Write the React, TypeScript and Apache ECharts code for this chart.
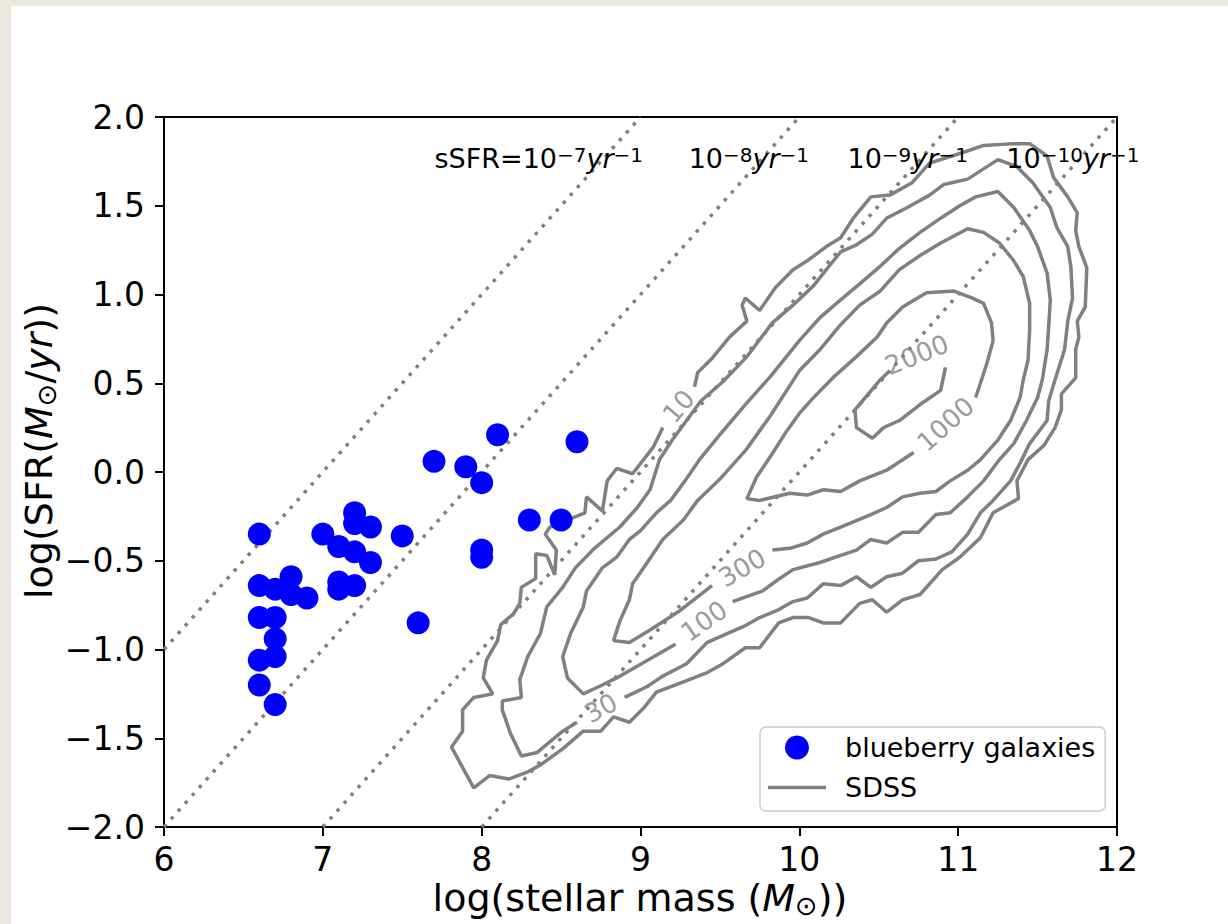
import React, { useEffect, useRef } from "react";
import * as echarts from "echarts";

const FONT = "DejaVu Sans";

// axis ticks
const xTickMin = 6;
const xTickMax = 12;
const yTickMin = -2;
const yTickMax = 2;

// blueberry galaxies: log stellar mass, log SFR
const blueberryMass = [6.6, 7.0, 7.1, 7.2, 7.2, 7.3, 7.2, 7.3, 7.5, 6.6, 6.7, 6.8, 6.8, 6.9, 7.1, 7.1, 7.2, 6.6, 6.7, 6.7, 6.6, 6.7, 6.6, 6.7, 7.7, 7.9, 8.0, 8.1, 8.6, 8.3, 8.5, 8.0, 8.0, 7.6];
const blueberrySFR = [-0.35, -0.35, -0.42, -0.23, -0.29, -0.31, -0.45, -0.51, -0.36, -0.64, -0.66, -0.59, -0.69, -0.71, -0.62, -0.66, -0.64, -0.82, -0.82, -0.94, -1.06, -1.04, -1.2, -1.31, 0.06, 0.03, -0.06, 0.21, 0.17, -0.27, -0.27, -0.44, -0.48, -0.85];

// constant sSFR reference lines (endpoints inside the axes)
const sSFRLineStart = [[6, -1], [6, -2], [7, -2], [8, -2]];
const sSFRLineEnd = [[9, 2], [10, 2], [11, 2], [12, 2]];
const sSFRExponent = ["−7", "−8", "−9", "−10"];
const sSFRPrefix = ["sSFR=10", "10", "10", "10"];
const sSFRLabelX = [7.7, 9.3, 10.3, 11.3];
const sSFRLabelY = [1.7, 1.7, 1.7, 1.7];

// SDSS contours (open at the inline label)
const sdss10 = [[9.34,0.48],[9.36,0.56],[9.45,0.64],[9.56,0.76],[9.67,0.85],[9.64,0.94],[9.66,0.98],[9.75,0.91],[9.85,1.04],[9.96,1.14],[10.05,1.19],[10.17,1.27],[10.26,1.32],[10.34,1.43],[10.45,1.55],[10.57,1.56],[10.71,1.63],[10.82,1.74],[11.03,1.8],[11.16,1.84],[11.35,1.85],[11.45,1.85],[11.56,1.78],[11.6,1.66],[11.69,1.55],[11.75,1.46],[11.74,1.36],[11.76,1.27],[11.81,1.15],[11.8,0.93],[11.75,0.85],[11.76,0.76],[11.74,0.69],[11.74,0.53],[11.65,0.44],[11.65,0.35],[11.61,0.25],[11.54,0.15],[11.44,0.07],[11.37,-0.05],[11.38,-0.15],[11.22,-0.23],[11.14,-0.37],[11.01,-0.48],[10.9,-0.55],[10.76,-0.69],[10.65,-0.72],[10.55,-0.79],[10.46,-0.72],[10.38,-0.74],[10.26,-0.85],[10.15,-0.85],[10.06,-0.82],[9.96,-0.82],[9.87,-0.85],[9.75,-0.99],[9.66,-0.99],[9.52,-1.08],[9.42,-1.13],[9.25,-1.19],[9.1,-1.24],[9.02,-1.33],[8.93,-1.41],[8.83,-1.38],[8.75,-1.46],[8.64,-1.46],[8.51,-1.56],[8.37,-1.65],[8.29,-1.69],[8.17,-1.73],[8.05,-1.71],[7.95,-1.78],[7.81,-1.55],[7.88,-1.46],[7.88,-1.34],[7.95,-1.27],[8.07,-1.25],[8.01,-1.16],[8.03,-1.06],[8.1,-0.95],[8.12,-0.86],[8.2,-0.8],[8.24,-0.74],[8.25,-0.65],[8.34,-0.6],[8.34,-0.46],[8.41,-0.47],[8.46,-0.58],[8.47,-0.44],[8.4,-0.35],[8.43,-0.31],[8.65,-0.23],[8.66,-0.14],[8.76,-0.22],[8.79,-0.05],[8.85,0.02],[8.95,-0.01],[9.08,0.14],[9.14,0.25]];
const sdss30 = [[8.9,-1.27],[9.04,-1.21],[9.14,-1.15],[9.29,-1.08],[9.42,-0.96],[9.52,-0.92],[9.65,-0.87],[9.75,-0.82],[9.86,-0.78],[9.96,-0.73],[10.05,-0.71],[10.15,-0.63],[10.26,-0.64],[10.36,-0.59],[10.45,-0.65],[10.55,-0.59],[10.65,-0.57],[10.75,-0.5],[10.86,-0.49],[10.96,-0.45],[11.06,-0.35],[11.14,-0.23],[11.22,-0.16],[11.33,-0.05],[11.39,0.05],[11.45,0.16],[11.56,0.29],[11.57,0.4],[11.61,0.52],[11.67,0.69],[11.69,0.85],[11.72,0.98],[11.71,1.15],[11.69,1.27],[11.62,1.38],[11.58,1.49],[11.47,1.63],[11.37,1.72],[11.25,1.76],[11.06,1.65],[10.91,1.62],[10.82,1.56],[10.68,1.49],[10.55,1.43],[10.46,1.34],[10.36,1.28],[10.26,1.24],[10.17,1.14],[10.09,1.05],[9.96,0.94],[9.83,0.84],[9.67,0.65],[9.52,0.51],[9.38,0.4],[9.29,0.29],[9.2,0.18],[9.12,0.07],[9.06,-0.1],[8.98,-0.2],[8.87,-0.31],[8.71,-0.43],[8.59,-0.54],[8.51,-0.65],[8.41,-0.76],[8.37,-0.91],[8.29,-1.04],[8.24,-1.17],[8.25,-1.27],[8.13,-1.29],[8.13,-1.34],[8.18,-1.47],[8.25,-1.6],[8.35,-1.58],[8.51,-1.46],[8.6,-1.41]];
const sdss100 = [[9.58,-0.73],[9.77,-0.67],[9.86,-0.61],[9.96,-0.55],[10.13,-0.51],[10.26,-0.47],[10.36,-0.44],[10.45,-0.38],[10.55,-0.4],[10.65,-0.34],[10.75,-0.34],[10.86,-0.24],[10.95,-0.23],[11.06,-0.14],[11.16,-0.05],[11.26,0.07],[11.35,0.16],[11.43,0.29],[11.5,0.42],[11.53,0.52],[11.56,0.69],[11.57,0.82],[11.58,0.97],[11.56,1.12],[11.5,1.27],[11.45,1.36],[11.35,1.49],[11.25,1.58],[11.11,1.55],[11.01,1.5],[10.89,1.43],[10.76,1.35],[10.63,1.26],[10.51,1.16],[10.38,1.06],[10.26,0.97],[10.13,0.87],[10.0,0.74],[9.82,0.54],[9.66,0.38],[9.5,0.21],[9.38,0.08],[9.28,-0.05],[9.19,-0.16],[9.1,-0.23],[9.0,-0.33],[8.93,-0.38],[8.85,-0.48],[8.76,-0.54],[8.66,-0.67],[8.64,-0.76],[8.56,-0.91],[8.51,-1.04],[8.54,-1.16],[8.64,-1.25],[8.76,-1.2],[8.85,-1.16],[9.22,-0.97]];
const sdss300 = [[9.83,-0.44],[9.94,-0.43],[10.05,-0.4],[10.15,-0.35],[10.26,-0.31],[10.45,-0.24],[10.55,-0.2],[10.65,-0.14],[10.76,-0.12],[10.86,-0.11],[10.95,-0.05],[11.06,0.01],[11.14,0.07],[11.25,0.18],[11.33,0.29],[11.39,0.42],[11.41,0.52],[11.44,0.63],[11.45,0.8],[11.45,0.95],[11.41,1.1],[11.35,1.19],[11.26,1.29],[11.16,1.35],[11.06,1.37],[10.89,1.29],[10.76,1.22],[10.63,1.14],[10.51,1.02],[10.38,0.94],[10.26,0.83],[10.13,0.69],[10.0,0.57],[9.82,0.32],[9.66,0.12],[9.5,-0.04],[9.36,-0.16],[9.27,-0.27],[9.14,-0.38],[9.02,-0.54],[8.95,-0.63],[8.93,-0.72],[8.87,-0.84],[8.83,-0.95],[8.93,-0.96],[9.06,-0.89],[9.25,-0.78],[9.45,-0.64]];
const sdss1000 = [[11.11,0.42],[11.14,0.5],[11.18,0.61],[11.22,0.74],[11.21,0.84],[11.16,0.95],[11.09,0.98],[10.97,1.02],[10.8,1.01],[10.65,0.93],[10.55,0.84],[10.49,0.76],[10.36,0.65],[10.21,0.53],[10.09,0.42],[10.0,0.33],[9.92,0.23],[9.82,0.09],[9.73,-0.03],[9.67,-0.15],[9.75,-0.16],[9.94,-0.12],[10.05,-0.13],[10.15,-0.1],[10.26,-0.11],[10.38,-0.05],[10.55,0.01],[10.72,0.11]];
const sdss2000 = [[10.92,0.59],[10.89,0.46],[10.76,0.38],[10.63,0.29],[10.53,0.25],[10.46,0.19],[10.36,0.25],[10.35,0.35],[10.51,0.52],[10.57,0.57]];

const contourLines = [sdss10, sdss30, sdss100, sdss300, sdss1000, sdss2000];
const contourLevels = ["10", "30", "100", "300", "1000", "2000"];
const contourLabelX = [9.24, 8.75, 9.4, 9.64, 10.92, 10.74];
const contourLabelY = [0.37, -1.33, -0.84, -0.54, 0.27, 0.66];
const contourLabelAngle = [50, 28, 35, 30, 42, 22];

const GRAY = "#808080";

function buildOption() {
  const series: any[] = [];

  sSFRLineStart.forEach((s, i) => {
    series.push({
      name: "sSFR line " + i,
      type: "line",
      data: [s, sSFRLineEnd[i]],
      symbol: "none",
      silent: true,
      z: 2,
      lineStyle: { color: GRAY, width: 3.5, type: [3.5, 7] },
    });
  });

  contourLines.forEach((c) => {
    series.push({
      name: "SDSS",
      type: "line",
      data: c,
      symbol: "none",
      showSymbol: false,
      silent: true,
      z: 3,
      lineStyle: { color: GRAY, width: 3.5 },
      itemStyle: { color: GRAY },
    });
  });

  series.push({
    name: "contour labels",
    type: "scatter",
    symbolSize: 1,
    silent: true,
    z: 4,
    itemStyle: { color: "rgba(0,0,0,0)" },
    data: contourLevels.map((lv, i) => ({
      name: lv,
      value: [contourLabelX[i], contourLabelY[i]],
      label: { rotate: contourLabelAngle[i] },
    })),
    label: {
      show: true,
      position: "inside",
      formatter: (p: any) => p.name,
      color: GRAY,
      fontSize: 26,
      fontFamily: FONT,
    },
  });

  const richSup = {
    n: { fontSize: 27, fontFamily: FONT, color: "#000000", lineHeight: 34, verticalAlign: "top" },
    s: { fontSize: 20, fontFamily: FONT, color: "#000000", lineHeight: 19, verticalAlign: "top" },
    i: { fontSize: 27, fontFamily: FONT, fontStyle: "italic", color: "#000000", lineHeight: 34, verticalAlign: "top" },
  };

  series.push({
    name: "sSFR labels",
    type: "scatter",
    symbolSize: 1,
    silent: true,
    z: 4,
    itemStyle: { color: "rgba(0,0,0,0)" },
    data: sSFRLabelX.map((x, i) => ({
      name: String(i),
      value: [x, sSFRLabelY[i]],
    })),
    label: {
      show: true,
      position: "right",
      distance: 0,
      align: "left",
      verticalAlign: "middle",
      offset: [0, -8],
      color: "#000000",
      opacity: 1,
      formatter: (p: any) => {
        const i = Number(p.name);
        return "{n|" + sSFRPrefix[i] + "}{s|" + sSFRExponent[i] + "}{i|yr}{s|−1}";
      },
      rich: richSup,
    },
  });

  series.push({
    name: "blueberry galaxies",
    type: "scatter",
    symbol: "circle",
    symbolSize: 23,
    z: 5,
    itemStyle: { color: "#0000ff", opacity: 1 },
    data: blueberryMass.map((m, i) => [m, blueberrySFR[i]]),
  });

  const titleRich = {
    n: { fontSize: 38, fontFamily: FONT, fill: "#000", lineHeight: 40, verticalAlign: "top" },
    i: { fontSize: 38, fontFamily: FONT, fontStyle: "italic", fill: "#000", lineHeight: 40, verticalAlign: "top" },
    sub: { fontSize: 27, fontFamily: FONT, fill: "#000", lineHeight: 18, verticalAlign: "bottom" },
  };

  return {
    animation: false,
    backgroundColor: "transparent",
    textStyle: { fontFamily: FONT },
    grid: {
      left: 164,
      top: 117,
      width: 953,
      height: 710,
      show: true,
      borderColor: "#000",
      borderWidth: 2,
      backgroundColor: "transparent",
    },
    xAxis: {
      type: "value",
      min: xTickMin,
      max: xTickMax,
      interval: 1,
      axisLine: { show: true, onZero: false, lineStyle: { color: "#000", width: 2 } },
      axisTick: { show: true, length: 9, lineStyle: { color: "#000", width: 2 } },
      splitLine: { show: false },
      axisLabel: { color: "#000", fontSize: 33, fontFamily: FONT, margin: 16 },
    },
    yAxis: {
      type: "value",
      min: yTickMin,
      max: yTickMax,
      interval: 0.5,
      axisLine: { show: true, onZero: false, lineStyle: { color: "#000", width: 2 } },
      axisTick: { show: true, length: 9, lineStyle: { color: "#000", width: 2 } },
      splitLine: { show: false },
      axisLabel: {
        color: "#000",
        fontSize: 33,
        fontFamily: FONT,
        margin: 19,
        formatter: (v: number) => (v < 0 ? "−" : "") + Math.abs(v).toFixed(1),
      },
    },
    legend: {
      data: [
        { name: "blueberry galaxies", icon: "circle" },
        { name: "SDSS", icon: "path://M0,0L58,0L58,3.5L0,3.5Z" },
      ],
      orient: "vertical",
      left: 760,
      top: 727,
      itemWidth: 58,
      itemHeight: 24,
      itemGap: 13,
      padding: [7, 10, 10, 8],
      backgroundColor: "#ffffff",
      borderColor: "#cccccc",
      borderWidth: 1.5,
      borderRadius: 6,
      selectedMode: false,
      textStyle: { fontSize: 27, color: "#000", fontFamily: FONT, padding: [0, 0, 0, 14] },
    },
    graphic: [
      {
        type: "text",
        x: 640,
        y: 899,
        z: 10,
        style: {
          text: "{n|log(stellar mass (}{i|M}{sub|⊙}{n|))}",
          rich: titleRich,
          align: "center",
          verticalAlign: "middle",
        },
      },
      {
        type: "text",
        x: 40,
        y: 451,
        rotation: Math.PI / 2,
        z: 10,
        style: {
          text: "{n|log(SFR(}{i|M}{sub|⊙}{n|/}{i|yr}{n|))}",
          rich: titleRich,
          align: "center",
          verticalAlign: "middle",
        },
      },
    ],
    series,
  };
}

export default function App() {
  const ref = useRef<HTMLDivElement>(null);
  useEffect(() => {
    if (!ref.current) return;
    const chart = echarts.init(ref.current, null, { renderer: "svg" });
    chart.setOption(buildOption() as any);
    return () => chart.dispose();
  }, []);
  return (
    <div style={{ position: "fixed", left: 0, top: 0, width: 1228, height: 924, background: "#ebe8df", overflow: "hidden" }}>
      <div style={{ position: "absolute", left: 11, top: 6, right: 0, bottom: 0, background: "#ffffff" }} />
      <div ref={ref} style={{ position: "absolute", left: 0, top: 0, width: 1228, height: 924 }} />
    </div>
  );
}
